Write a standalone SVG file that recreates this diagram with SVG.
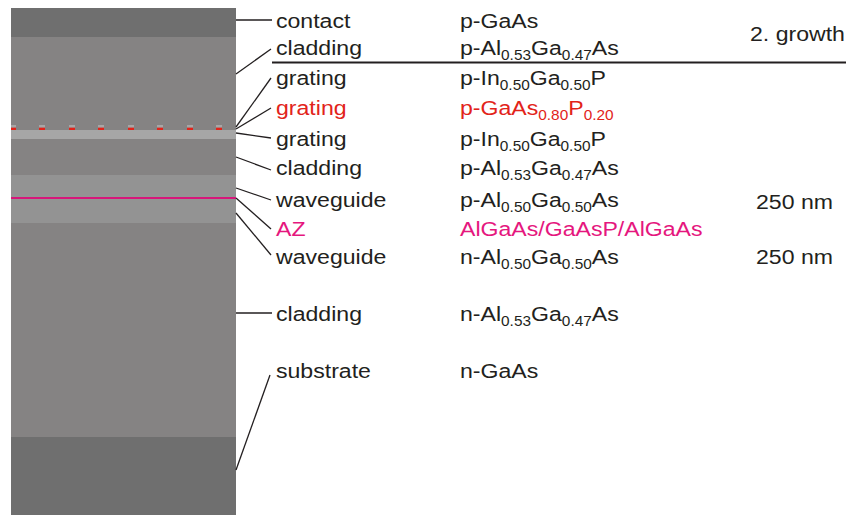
<svg xmlns="http://www.w3.org/2000/svg" width="846" height="515" viewBox="0 0 846 515">
  <style>
    .lbl { font-family: "Liberation Sans", Arial, sans-serif; font-size: 21px; fill: #231f20; }
    .red { fill: #e2231a; }
    .mag { fill: #e5177e; }
    .sub { font-size: 14px; }
    .conn { stroke: #231f20; stroke-width: 1.3; fill: none; }
  </style>
  <rect width="846" height="515" fill="#ffffff"/>

  <!-- layer stack -->
  <g id="stack">
    <rect id="contact-layer" x="11" y="8" width="225" height="29" fill="#6f6f6f"/>
    <rect id="p-cladding-upper" x="11" y="37" width="225" height="93" fill="#858383"/>
    <g id="grating-teeth">
      <rect x="11" y="125" width="5" height="2.7" fill="#a6a6a6"/>
      <rect x="11" y="127.7" width="5" height="2.3" fill="#e2231a"/>
      <rect x="39" y="125" width="6" height="2.7" fill="#a6a6a6"/>
      <rect x="39" y="127.7" width="6" height="2.3" fill="#e2231a"/>
      <rect x="69" y="125" width="6" height="2.7" fill="#a6a6a6"/>
      <rect x="69" y="127.7" width="6" height="2.3" fill="#e2231a"/>
      <rect x="98" y="125" width="6" height="2.7" fill="#a6a6a6"/>
      <rect x="98" y="127.7" width="6" height="2.3" fill="#e2231a"/>
      <rect x="128" y="125" width="6" height="2.7" fill="#a6a6a6"/>
      <rect x="128" y="127.7" width="6" height="2.3" fill="#e2231a"/>
      <rect x="157" y="125" width="6" height="2.7" fill="#a6a6a6"/>
      <rect x="157" y="127.7" width="6" height="2.3" fill="#e2231a"/>
      <rect x="187" y="125" width="6" height="2.7" fill="#a6a6a6"/>
      <rect x="187" y="127.7" width="6" height="2.3" fill="#e2231a"/>
      <rect x="216" y="125" width="6" height="2.7" fill="#a6a6a6"/>
      <rect x="216" y="127.7" width="6" height="2.3" fill="#e2231a"/>
    </g>
    <rect id="grating-base" x="11" y="130" width="225" height="9" fill="#a6a6a6"/>
    <rect id="p-cladding-lower" x="11" y="139" width="225" height="36" fill="#858383"/>
    <rect id="waveguide-layer" x="11" y="175" width="225" height="48" fill="#939393"/>
    <rect id="active-zone" x="11" y="197" width="225" height="2" fill="#d6177a"/>
    <rect id="n-cladding" x="11" y="223" width="225" height="214" fill="#858383"/>
    <rect id="substrate-layer" x="11" y="437" width="225" height="78" fill="#6f6f6f"/>
  </g>

  <!-- leader lines -->
  <g id="connectors" class="conn">
    <line x1="236" y1="20" x2="272" y2="20"/>
    <line x1="236" y1="74" x2="271" y2="49"/>
    <line x1="236" y1="127" x2="271" y2="78"/>
    <line x1="236" y1="129" x2="271" y2="108"/>
    <line x1="236" y1="133" x2="271" y2="138"/>
    <line x1="236" y1="157" x2="271" y2="170"/>
    <line x1="236" y1="188" x2="271" y2="200"/>
    <line x1="236" y1="198" x2="271" y2="229"/>
    <line x1="236" y1="213" x2="271" y2="255"/>
    <line x1="236" y1="313" x2="272" y2="313"/>
    <line x1="236" y1="470" x2="270" y2="375"/>
    <line x1="272" y1="62.5" x2="846" y2="62.5" stroke-width="2.2"/>
  </g>

  <!-- labels (horizontally stretched type) -->
  <g id="labels" transform="scale(1.1 1)">
    <g id="n-contact">
      <text class="lbl" x="250.9" y="28">contact</text>
      <text class="lbl" x="418.2" y="28">p-GaAs</text>
    </g>
    <g id="n-cladding-p1">
      <text class="lbl" x="250.9" y="55">cladding</text>
      <text class="lbl" x="418.2" y="55">p-Al<tspan class="sub" dy="5">0.53</tspan><tspan dy="-5">Ga</tspan><tspan class="sub" dy="5">0.47</tspan><tspan dy="-5">As</tspan></text>
    </g>
    <text id="n-growth" class="lbl" x="681.8" y="41">2. growth</text>
    <g id="n-grating1">
      <text class="lbl" x="250.9" y="85">grating</text>
      <text class="lbl" x="418.2" y="85">p-In<tspan class="sub" dy="5">0.50</tspan><tspan dy="-5">Ga</tspan><tspan class="sub" dy="5">0.50</tspan><tspan dy="-5">P</tspan></text>
    </g>
    <g id="n-grating2">
      <text class="lbl red" x="250.9" y="115">grating</text>
      <text class="lbl red" x="418.2" y="115">p-GaAs<tspan class="sub" dy="5">0.80</tspan><tspan dy="-5">P</tspan><tspan class="sub" dy="5">0.20</tspan></text>
    </g>
    <g id="n-grating3">
      <text class="lbl" x="250.9" y="146">grating</text>
      <text class="lbl" x="418.2" y="146">p-In<tspan class="sub" dy="5">0.50</tspan><tspan dy="-5">Ga</tspan><tspan class="sub" dy="5">0.50</tspan><tspan dy="-5">P</tspan></text>
    </g>
    <g id="n-cladding-p2">
      <text class="lbl" x="250.9" y="175">cladding</text>
      <text class="lbl" x="418.2" y="175">p-Al<tspan class="sub" dy="5">0.53</tspan><tspan dy="-5">Ga</tspan><tspan class="sub" dy="5">0.47</tspan><tspan dy="-5">As</tspan></text>
    </g>
    <g id="n-waveguide-p">
      <text class="lbl" x="250.9" y="207.5">waveguide</text>
      <text class="lbl" x="418.2" y="207.5">p-Al<tspan class="sub" dy="5">0.50</tspan><tspan dy="-5">Ga</tspan><tspan class="sub" dy="5">0.50</tspan><tspan dy="-5">As</tspan></text>
      <text class="lbl" x="687.3" y="209">250 nm</text>
    </g>
    <g id="n-az">
      <text class="lbl mag" x="250.9" y="236">AZ</text>
      <text class="lbl mag" x="418.2" y="236">AlGaAs/GaAsP/AlGaAs</text>
    </g>
    <g id="n-waveguide-n">
      <text class="lbl" x="250.9" y="264">waveguide</text>
      <text class="lbl" x="418.2" y="264">n-Al<tspan class="sub" dy="5">0.50</tspan><tspan dy="-5">Ga</tspan><tspan class="sub" dy="5">0.50</tspan><tspan dy="-5">As</tspan></text>
      <text class="lbl" x="687.3" y="264">250 nm</text>
    </g>
    <g id="n-cladding-n">
      <text class="lbl" x="250.9" y="321.5">cladding</text>
      <text class="lbl" x="418.2" y="321.5">n-Al<tspan class="sub" dy="5">0.53</tspan><tspan dy="-5">Ga</tspan><tspan class="sub" dy="5">0.47</tspan><tspan dy="-5">As</tspan></text>
    </g>
    <g id="n-substrate">
      <text class="lbl" x="250.9" y="378.5">substrate</text>
      <text class="lbl" x="418.2" y="378.5">n-GaAs</text>
    </g>
  </g>
</svg>
